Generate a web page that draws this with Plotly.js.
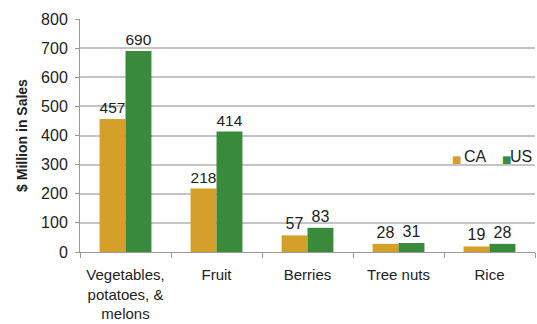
<!DOCTYPE html>
<html><head><meta charset="utf-8">
<script src="https://cdn.plot.ly/plotly-3.0.1.min.js"></script>
<style>html,body{margin:0;padding:0;background:#fff;}#chart{width:537px;height:324px;}</style>
</head><body><div id="chart"></div>
<script>
var categories = ["Vegetables,<br>potatoes, &<br>melons", "Fruit", "Berries", "Tree nuts", "Rice"];
var caValues = [457, 218, 57, 28, 19];
var usValues = [690, 414, 83, 31, 28];
var yTicks = [0, 100, 200, 300, 400, 500, 600, 700, 800];
var seriesNames = ["CA", "US"];
var seriesColors = ["#D4A02A", "#3A8A3C"];

var fam = "Liberation Sans, Arial, sans-serif";
var plotL = 80, plotR = 535;
function px(x) { return (x - plotL) / (plotR - plotL); }

var traces = [
  {type: "bar", name: seriesNames[0], x: categories, y: caValues, marker: {color: seriesColors[0]},
   text: caValues.map(String), textposition: "outside", cliponaxis: false,
   textfont: {family: fam, size: 16, color: "#222"}},
  {type: "bar", name: seriesNames[1], x: categories, y: usValues, marker: {color: seriesColors[1]},
   text: usValues.map(String), textposition: "outside", cliponaxis: false,
   textfont: {family: fam, size: 16, color: "#222"}}
];
var legendSquareX = [450, 500];
var legendTextX = [462, 508];
var annotations = [];
seriesNames.forEach(function (n, i) {
  annotations.push({xref: "paper", yref: "paper", x: px(legendSquareX[i]), y: 0.395, xanchor: "left", yanchor: "middle",
                    showarrow: false, text: "■", font: {family: "DejaVu Sans", size: 10, color: seriesColors[i]}});
  annotations.push({xref: "paper", yref: "paper", x: px(legendTextX[i]), y: 0.41, xanchor: "left", yanchor: "middle",
                    showarrow: false, text: n, font: {family: fam, size: 16, color: "#222"}});
});
var layout = {
  width: 537, height: 324,
  margin: {l: plotL, r: 537 - plotR, t: 19, b: 72, autoexpand: false},
  paper_bgcolor: "#fff", plot_bgcolor: "#fff",
  font: {family: fam, size: 15, color: "#222"},
  barmode: "group", bargap: 0.43, bargroupgap: 0,
  showlegend: false,
  annotations: annotations,
  xaxis: {showline: true, linecolor: "#999", linewidth: 1, ticks: "outside", ticklen: 5,
          tickcolor: "#999", tickson: "boundaries", showgrid: false, tickangle: 0, automargin: false,
          ticklabelstandoff: 9, range: [-0.5, 4.5],
          tickfont: {family: fam, size: 15, color: "#222"}},
  yaxis: {range: [0, 800], tickvals: yTicks, ticktext: yTicks.map(String), showgrid: true,
          gridcolor: "#c4c4c4", gridwidth: 2, showline: true, linecolor: "#999", linewidth: 1,
          ticks: "outside", ticklen: 4, tickcolor: "#999", zeroline: false, automargin: false,
          ticklabelstandoff: 4,
          tickfont: {family: fam, size: 16, color: "#222"},
          title: {text: "<b>$ Million in Sales</b>", font: {family: fam, size: 14, color: "#222"}, standoff: 10}}
};
Plotly.newPlot("chart", traces, layout, {displayModeBar: false, staticPlot: true});
</script></body></html>
